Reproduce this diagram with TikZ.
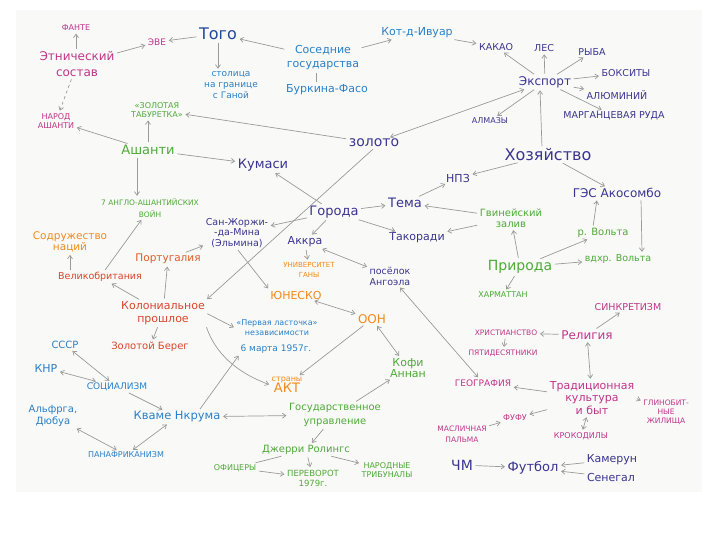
\documentclass[tikz,border=0pt]{standalone}
\usepackage{fontspec}
\setmainfont{DejaVu Sans}
\usetikzlibrary{arrows.meta}
\definecolor{mag}{HTML}{C0358A}
\definecolor{navy}{HTML}{3A3590}
\definecolor{togoblue}{HTML}{22489C}
\definecolor{lblue}{HTML}{2A80C8}
\definecolor{grn}{HTML}{4EAA38}
\definecolor{orng}{HTML}{F08A1C}
\definecolor{rd}{HTML}{D8462C}
\definecolor{arr}{HTML}{9A9A9A}
\definecolor{paper}{HTML}{F9F9F7}
\newcommand{\fs}[1]{\fontsize{#1}{#1}\selectfont}
\begin{document}
\begin{tikzpicture}[x=1pt,y=-1pt,
  t/.style={inner sep=1pt, align=center},
  s75/.style={font=\fontsize{7.5}{9}\selectfont},
  s8/.style={font=\fontsize{8}{9.5}\selectfont},
  s9/.style={font=\fontsize{9}{10.5}\selectfont},
  s95/.style={font=\fontsize{9.5}{11}\selectfont},
  s10/.style={font=\fontsize{10}{12}\selectfont},
  s11/.style={font=\fontsize{11}{13}\selectfont},
  s12/.style={font=\fontsize{12}{14}\selectfont},
  s13/.style={font=\fontsize{13}{15}\selectfont},
  s14/.style={font=\fontsize{14}{16}\selectfont},
  s16/.style={font=\fontsize{16}{18}\selectfont},
  ar/.style={draw=arr, line width=0.7pt, shorten >=1.5pt, shorten <=1.5pt, -{Straight Barb[length=3.5pt,width=5pt]}},
  ar2/.style={draw=arr, line width=0.7pt, shorten >=1.5pt, shorten <=1.5pt, {Straight Barb[length=3.5pt,width=5pt]}-{Straight Barb[length=3.5pt,width=5pt]}},
  ln/.style={draw=arr, line width=0.7pt, shorten >=1.5pt, shorten <=1.5pt}
]
\useasboundingbox (0,0) rectangle (720,540);
\fill[paper] (16,10) rectangle (702,492);

% ---- top left
\node[t,s8,text=mag] (fante) at (76,28) {ФАНТЕ};
\node[t,text=mag,font=\fontsize{12}{16}\selectfont] (ethn) at (77,64) {Этнический\\состав};
\node[t,s9,text=mag] (eve) at (157,42) {ЭВЕ};
\node[t,s16,text=togoblue] (togo) at (218,34) {Того};
\node[t,s9,text=lblue,font=\fontsize{9}{11}\selectfont] (capital) at (231,85) {столица\\на границе\\с Ганой};
\node[t,text=lblue,font=\fontsize{11}{14}\selectfont] (neigh) at (323,58) {Соседние\\государства};
\node[t,s11,text=lblue] (burkina) at (327,90) {Буркина-Фасо};
\node[t,s11,text=lblue] (cote) at (417,33) {Кот-д-Ивуар};
\node[t,s8,text=mag] (narod) at (56,121) {НАРОД\\АШАНТИ};
\node[t,s8,text=grn] (gstool) at (157,110) {«ЗОЛОТАЯ\\ТАБУРЕТКА»};
\node[t,s13,text=grn] (ashanti) at (148,150) {Ашанти};
\node[t,s14,text=navy] (zoloto) at (374,143) {золото};
\node[t,s13,text=navy] (kumasi) at (263,165) {Кумаси};

% ---- export
\node[t,s95,text=navy] (kakao) at (496,47) {КАКАО};
\node[t,s95,text=navy] (les) at (544,48) {ЛЕС};
\node[t,s95,text=navy] (ryba) at (592,52) {РЫБА};
\node[t,s12,text=navy] (export) at (545,82) {Экспорт};
\node[t,s95,text=navy] (boksit) at (626,73) {БОКСИТЫ};
\node[t,s95,text=navy] (alum) at (617,95) {АЛЮМИНИЙ};
\node[t,s95,text=navy] (marg) at (614,116) {МАРГАНЦЕВАЯ РУДА};
\node[t,s8,text=navy] (almaz) at (490,121) {АЛМАЗЫ};
\node[t,s16,text=navy] (hoz) at (548,155) {Хозяйство};
\node[t,s11,text=navy] (npz) at (458,178) {НПЗ};
\node[t,s12,text=navy] (ges) at (617,193) {ГЭС Акосомбо};

% ---- cities
\node[t,s13,text=navy] (tema) at (405,203) {Тема};
\node[t,s13,text=navy] (goroda) at (334,212) {Города};
\node[t,s11,text=navy] (takoradi) at (417,238) {Такоради};
\node[t,s95,text=navy,font=\fontsize{9.5}{10.5}\selectfont] (sanjor) at (237,233) {Сан-Жоржи-\\-да-Мина\\(Эльмина)};
\node[t,s11,text=navy] (akkra) at (305,242) {Аккра};
\node[t,text=orng,font=\fontsize{7}{10}\selectfont] (univ) at (309,270) {УНИВЕРСИТЕТ\\ГАНЫ};
\node[t,text=navy,font=\fontsize{9.5}{11}\selectfont] (posel) at (390,276) {посёлок\\Ангоэла};
\node[t,s11,text=orng] (unesco) at (296,295) {ЮНЕСКО};
\node[t,s12,text=orng] (oon) at (372,319) {ООН};
\node[t,text=lblue,font=\fontsize{8}{10}\selectfont] (perv) at (277,328) {«Первая ласточка»\\независимости};
\node[t,s9,text=lblue] (date) at (276,349) {6 марта 1957г.};
\node[t,text=grn,font=\fontsize{11}{11}\selectfont] (kofi) at (408,368) {Кофи\\Аннан};
\node[t,text=orng,align=center] (akt) at (287,385) {{\fs{8}страны}\\[-1pt]{\fs{13}АКТ}};

% ---- nature
\node[t,text=grn,font=\fontsize{10}{11}\selectfont] (gvin) at (511,218) {Гвинейский\\залив};
\node[t,s10,text=grn] (rvolta) at (603,233) {р. Вольта};
\node[t,s95,text=grn] (vdhr) at (618,259) {вдхр. Вольта};
\node[t,s14,text=grn] (priroda) at (520,267) {Природа};
\node[t,s8,text=grn] (harmat) at (503,295) {ХАРМАТТАН};

% ---- religion / culture
\node[t,s95,text=mag] (sinkr) at (628,307) {СИНКРЕТИЗМ};
\node[t,s75,text=mag] (hrist) at (506,333) {ХРИСТИАНСТВО};
\node[t,s12,text=mag] (relig) at (587,335) {Религия};
\node[t,s75,text=mag] (pyatid) at (503,353) {ПЯТИДЕСЯТНИКИ};
\node[t,s9,text=mag] (geogr) at (483,383) {ГЕОГРАФИЯ};
\node[t,text=mag,font=\fontsize{11}{12.5}\selectfont] (trad) at (592,398) {Традиционная\\культура\\и быт};
\node[t,text=mag,font=\fontsize{7.5}{9}\selectfont] (glinob) at (666,412) {ГЛИНОБИТ-\\НЫЕ\\ЖИЛИЩА};
\node[t,s8,text=mag] (fufu) at (515,418) {ФУФУ};
\node[t,text=mag,font=\fontsize{7.5}{11}\selectfont] (maslich) at (462,434) {МАСЛИЧНАЯ\\ПАЛЬМА};
\node[t,s8,text=mag] (krokod) at (581,436) {КРОКОДИЛЫ};

% ---- football
\node[t,s14,text=navy] (chm) at (462,465) {ЧМ};
\node[t,s13,text=navy] (futbol) at (533,468) {Футбол};
\node[t,s11,text=navy] (kamerun) at (612,460) {Камерун};
\node[t,s11,text=navy] (senegal) at (611,477) {Сенегал};

% ---- colonial
\node[t,text=grn,font=\fontsize{7.5}{12}\selectfont] (wars) at (150,208) {7 АНГЛО-АШАНТИЙСКИХ\\ВОЙН};
\node[t,text=orng,font=\fontsize{10.5}{11}\selectfont] (sodr) at (70,242) {Содружество\\наций};
\node[t,text=rd!70!orng,font=\fontsize{10.5}{12}\selectfont] (portug) at (168,259) {Португалия};
\node[t,s95,text=rd] (velik) at (100,277) {Великобритания};
\node[t,text=rd,font=\fontsize{11}{13}\selectfont] (colon) at (163,313) {Колониальное\\прошлое};
\node[t,s10,text=rd] (zbereg) at (150,347) {Золотой Берег};

% ---- Nkrumah
\node[t,s10,text=lblue] (sssr) at (65,345) {СССР};
\node[t,s11,text=lblue] (knr) at (46,368) {КНР};
\node[t,s9,text=lblue] (social) at (117,387) {СОЦИАЛИЗМ};
\node[t,text=lblue,font=\fontsize{10}{12}\selectfont] (alfr) at (53,416) {Альфрга,\\Дюбуа};
\node[t,text=lblue,font=\fontsize{11.5}{13}\selectfont] (nkruma) at (177,417) {Кваме Нкрума};
\node[t,s8,text=lblue] (panaf) at (126,455) {ПАНАФРИКАНИЗМ};

% ---- government
\node[t,text=grn,font=\fontsize{10}{14}\selectfont] (gosupr) at (335,415) {Государственное\\управление};
\node[t,s10,text=grn] (rollings) at (306,450) {Джерри Ролингс};
\node[t,s8,text=grn] (ofic) at (235,468) {ОФИЦЕРЫ};
\node[t,text=grn,font=\fontsize{8.5}{10}\selectfont] (perevorot) at (313,478) {ПЕРЕВОРОТ\\1979г.};
\node[t,text=grn,font=\fontsize{8}{9.5}\selectfont] (narodtr) at (387,470) {НАРОДНЫЕ\\ТРИБУНАЛЫ};

% ================= connectors
\draw[ar] (ethn) -- (eve);
\draw[ar] (ethn.north -| fante) -- (fante);
\draw[ar,dashed] (ethn) -- (narod);
\draw[ar] (togo) -- (eve);
\draw[ar] (togo) -- (togo |- capital.north);
\draw[ar] (neigh) -- (togo);
\draw[ar] (neigh) -- (cote);
\draw[ln] ([xshift=-7pt]neigh.south) -- ([xshift=-11pt]burkina.north);
\draw[ar] (cote) -- (kakao);
\draw[ar] (export) -- (kakao);
\draw[ar] (export) -- (les);
\draw[ar] (export) -- (ryba);
\draw[ar] (export) -- (boksit);
\draw[ar] (export) -- (alum);
\draw[ar] (export) -- (marg);
\draw[ar] (export) -- (almaz);
\draw[ar] ([xshift=-6pt]hoz.north) -- ([xshift=-5pt]export.south);
\draw[ar2] (zoloto) -- (export);
\draw[ar] (zoloto) -- (gstool);
\draw[ar] (ashanti) -- (ashanti |- gstool.south);
\draw[ar] (ashanti) -- (narod);
\draw[ar] (ashanti) -- (kumasi);
\draw[ar] ([xshift=-11pt]ashanti.south) -- ([xshift=-13pt]wars.north);
\draw[ar] (zoloto.south) -- (colon.north east);
\draw[ar] (goroda) -- (kumasi);
\draw[ar] (goroda) -- (tema);
\draw[ar] (goroda) -- (takoradi);
\draw[ar] (goroda) -- (sanjor);
\draw[ar] (goroda) -- (akkra);
\draw[ar] (akkra) -- (univ);
\draw[ar2] (akkra) -- (posel);
\draw[ar] (sanjor.south) -- (unesco.north west);
\draw[ar2] (unesco) -- (oon);
\draw[ar2] (oon) -- (kofi);
\draw[ar] (oon) -- (akt);
\draw[ar] (gosupr) -- (kofi);
\draw[ar2] (nkruma) -- (gosupr);
\draw[ar] ([xshift=22pt]nkruma.north) -- (date.south west);
\draw[ar] (colon.south east) .. controls (215,352) and (235,372) .. (akt.west);
\draw[ar] (colon.east) -- (perv.west);
\draw[ar] (colon) -- (zbereg);
\draw[ar] (colon) -- (velik);
\draw[ar] (colon) -- (portug);
\draw[ar] (portug) -- (sanjor);
\draw[ar] ([xshift=-30pt]velik.north) -- (sodr.south);
\draw[ar] (velik) -- (wars);
\draw[ar2] (sssr) -- (social);
\draw[ar2] (knr) -- (social);
\draw[ar] (social) -- (nkruma);
\draw[ar2] (alfr) -- (panaf);
\draw[ar2] (nkruma) -- (panaf);
\draw[ar] (gosupr) -- (rollings);
\draw[ar] (rollings) -- (perevorot);
\draw[ar] (rollings) -- (narodtr);
\draw[ln] (rollings) -- (ofic);
\draw[ar] (ofic) -- (perevorot);
\draw[ar] (hoz) -- (npz);
\draw[ar] (tema) -- (npz);
\draw[ar] (hoz) -- (ges);
\draw[ar] (gvin) -- (tema);
\draw[ar] (gvin) -- (takoradi);
\draw[ar] (priroda) -- (gvin);
\draw[ar] (priroda) -- (rvolta);
\draw[ar] (priroda) -- (vdhr);
\draw[ar] (priroda) -- (harmat);
\draw[ar] ([xshift=-10pt]rvolta.north) -- ([xshift=-20pt]ges.south);
\draw[ar] ([xshift=24pt]ges.south) -- ([xshift=24pt]vdhr.north);
\draw[ar] (relig) -- (sinkr);
\draw[ar] (relig) -- (hrist);
\draw[ar] (hrist) -- (pyatid);
\draw[ar2] (relig) -- (trad);
\draw[ar] (trad) -- (geogr);
\draw[ar] (trad.east) -- (glinob);
\draw[ar] (trad) -- (fufu);
\draw[ar2] (trad) -- (krokod);
\draw[ar] (maslich) -- (fufu);
\draw[ar2] (posel) -- (geogr);
\draw[ar] (chm) -- (futbol);
\draw[ar] (kamerun) -- (futbol);
\draw[ar] (senegal) -- (futbol);
\end{tikzpicture}
\end{document}
